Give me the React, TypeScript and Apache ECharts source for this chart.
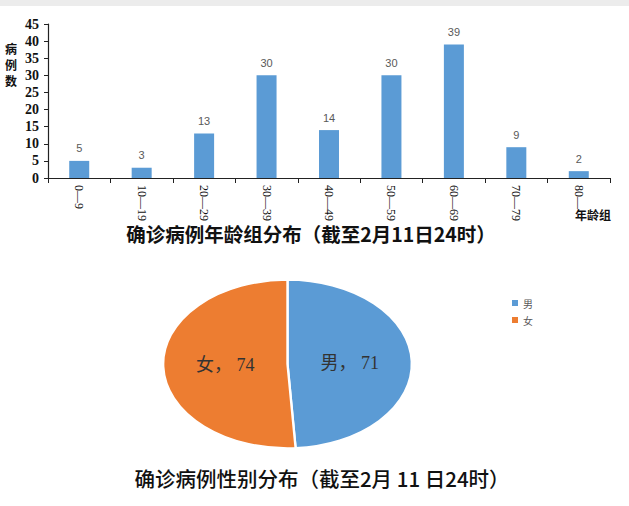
import { useEffect, useRef } from "react";
import * as echarts from "echarts";

// 年龄组分布
const ageGroups = ["0—9", "10—19", "20—29", "30—39", "40—49", "50—59", "60—69", "70—79", "80—"];
const ageCounts = [5, 3, 13, 30, 14, 30, 39, 9, 2];
const yTicks = { min: 0, max: 45, interval: 5 };
const yAxisName = ["病", "例", "数"];

// 性别分布
const genderNames = ["男", "女"];
const genderValues = [71, 74];
const genderColors = ["#5B9BD5", "#ED7D31"];

const SERIF = "'Liberation Serif', 'Noto Sans CJK SC', serif";
const CJK = "'Noto Sans CJK SC', sans-serif";

// 椭圆饼图的中心与半径
const PIE_CX = 287.5;
const PIE_CY = 364;
const PIE_RY = 84;
const PIE_SX = 1.48;

export default function App() {
  const chartRef = useRef<HTMLDivElement>(null);

  useEffect(() => {
    if (!chartRef.current) return;
    const chart = echarts.init(chartRef.current, null, { renderer: "svg" });

    const total = genderValues.reduce((a, b) => a + b, 0);

    const pieSeries = genderNames.map((name, i) => ({
      type: "custom" as const,
      name,
      coordinateSystem: "none",
      itemStyle: { color: genderColors[i] },
      data: [[genderValues[i]]],
      renderItem: (_params: any, api: any) => {
        const v = api.value(0);
        const before = genderValues.slice(0, i).reduce((a, b) => a + b, 0);
        const start = -Math.PI / 2 + (before / total) * Math.PI * 2;
        const end = start + (v / total) * Math.PI * 2;
        const mid = (start + end) / 2;
        return {
          type: "group",
          x: PIE_CX,
          y: PIE_CY,
          children: [
            {
              type: "sector",
              scaleX: PIE_SX,
              shape: { cx: 0, cy: 0, r: PIE_RY, startAngle: start, endAngle: end, clockwise: true },
              style: { fill: genderColors[i], stroke: "#ffffff", lineWidth: 1.6 },
            },
            {
              type: "text",
              x: 0.5 * PIE_RY * PIE_SX * Math.cos(mid),
              y: 0.5 * PIE_RY * Math.sin(mid),
              style: {
                text: `${name}， ${v}`,
                fill: "#333333",
                font: `18px ${SERIF}`,
                align: "center",
                verticalAlign: "middle",
              },
            },
          ],
        };
      },
    }));

    // 纵轴名称竖排，每个字单独放置
    const yNameTexts = yAxisName.map((ch, i) => ({
      type: "text",
      x: 11,
      y: 48 + i * 16,
      style: {
        text: ch,
        font: `bold 12px ${CJK}`,
        fill: "#111",
        align: "center",
        verticalAlign: "middle",
      },
    }));

    chart.setOption({
      animation: false,
      grid: { left: 48, right: 19, top: 24, bottom: 328, containLabel: false },
      legend: {
        data: genderNames,
        orient: "vertical",
        left: 507,
        top: 293,
        icon: "rect",
        itemWidth: 6,
        itemHeight: 6,
        itemGap: 7,
        textStyle: { fontSize: 10, color: "#595959", fontFamily: CJK },
      },
      xAxis: {
        type: "category",
        data: ageGroups,
        axisLine: { lineStyle: { color: "#222", width: 1.2 } },
        axisTick: { show: true, length: 5, lineStyle: { color: "#222" } },
        axisLabel: {
          rotate: -90,
          margin: 7,
          color: "#111",
          fontSize: 12,
          fontFamily: SERIF,
          interval: 0,
        },
      },
      yAxis: {
        type: "value",
        ...yTicks,
        axisLine: { show: true, lineStyle: { color: "#222", width: 1.2 } },
        axisTick: { show: true, length: 4, lineStyle: { color: "#222" } },
        axisLabel: {
          color: "#111",
          fontSize: 14,
          fontWeight: "bold",
          fontFamily: SERIF,
          margin: 9,
        },
        splitLine: { show: false },
      },
      series: [
        {
          type: "bar",
          data: ageCounts,
          barWidth: 20,
          itemStyle: { color: "#5B9BD5" },
          label: {
            show: true,
            position: "top",
            distance: 7,
            color: "#595959",
            fontSize: 11,
            fontFamily: "'Liberation Sans', sans-serif",
          },
        },
        ...pieSeries,
      ],
      graphic: [
        {
          type: "rect",
          shape: { x: 0, y: 0, width: 629, height: 6 },
          style: { fill: "#ececec" },
        },
        ...yNameTexts,
        {
          type: "text",
          left: 575,
          top: 208,
          style: { text: "年龄组", font: `bold 12px ${CJK}`, fill: "#111" },
        },
        {
          type: "text",
          x: 311,
          y: 233,
          style: {
            text: "确诊病例年龄组分布（截至2月11日24时）",
            font: `bold 19.5px ${CJK}`,
            fill: "#111",
            align: "center",
            verticalAlign: "middle",
          },
        },
        {
          type: "text",
          x: 322,
          y: 478,
          style: {
            text: "确诊病例性别分布（截至2月 11 日24时）",
            font: `500 20.5px ${CJK}`,
            fill: "#111",
            align: "center",
            verticalAlign: "middle",
          },
        },
      ],
    });

    return () => {
      chart.dispose();
    };
  }, []);

  return (
    <div
      ref={chartRef}
      style={{ position: "absolute", left: 0, top: 0, width: 629, height: 506, background: "#fff" }}
    />
  );
}
